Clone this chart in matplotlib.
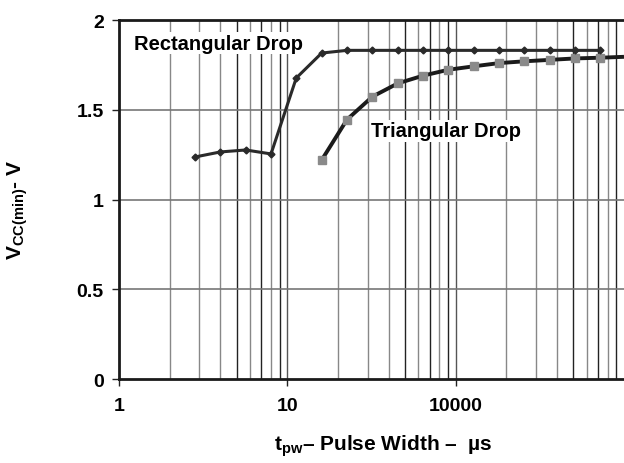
import matplotlib
matplotlib.use("Agg")
import matplotlib.pyplot as plt
from matplotlib.ticker import FixedLocator, NullFormatter

plt.rcParams['font.family'] = ['Liberation Sans', 'DejaVu Sans']
plt.rcParams['font.weight'] = 'bold'
plt.rcParams['mathtext.fontset'] = 'custom'
plt.rcParams['mathtext.rm'] = 'Liberation Sans:bold'
plt.rcParams['mathtext.bf'] = 'Liberation Sans:bold'

# pulse width (us) and Vcc(min) values
rect_x = [2.83, 4, 5.66, 8, 11.3, 16, 22.6, 32, 45.3, 64, 90.5, 128, 181, 256, 362, 512, 724]
rect_y = [1.237, 1.265, 1.276, 1.254, 1.677, 1.816, 1.831, 1.831, 1.831, 1.831, 1.831,
          1.831, 1.831, 1.831, 1.831, 1.831, 1.831]

tri_x = [16, 22.6, 32, 45.3, 64, 90.5, 128, 181, 256, 362, 512, 724, 1000]
tri_y = [1.22, 1.445, 1.573, 1.647, 1.69, 1.723, 1.742, 1.76, 1.77, 1.778, 1.786, 1.79, 1.795]
tri_mark_x = tri_x[:-1]
tri_mark_y = tri_y[:-1]

xticks = [1, 10, 100]
xticklabels = ['1', '10', '10000']
yticks = [0, 0.5, 1, 1.5, 2]
yticklabels = ['0', '0.5', '1', '1.5', '2']

fig = plt.figure(figsize=(6.24, 4.64), dpi=100)
ax = fig.add_axes([0.1907, 0.181, 0.8093, 0.7737])
ax.set_xscale('log')
ax.set_xlim(1, 1000)
ax.set_ylim(0, 2)

# grid: mix of dark and grey vertical lines like the original
dark = {5, 7, 9}
for d in range(3):
    for m in range(2, 10):
        ax.axvline(m * 10 ** d, color='#222222' if m in dark else '#888888', lw=1.0, zorder=1)
for v in [10, 100]:
    ax.axvline(v, color='#555555', lw=1.0, zorder=1)
for v in [0.5, 1, 1.5]:
    ax.axhline(v, color='#777777', lw=1.2, zorder=1)

ax.plot(tri_x, tri_y, color='#1a1a1a', lw=2.8, zorder=3, solid_capstyle='butt')
ax.plot(tri_mark_x, tri_mark_y, ls='none', marker='s', ms=6, color='#8a8a8a', zorder=4)
ax.plot(rect_x, rect_y, color='#2a2a2a', lw=2.2, marker='D', ms=3.5, zorder=5)

ax.text(3.9, 1.87, 'Rectangular Drop', fontsize=14.5, fontweight='bold', ha='center', va='center',
        bbox=dict(facecolor='white', edgecolor='none', pad=1), zorder=6)
ax.text(88, 1.382, 'Triangular Drop', fontsize=14.5, fontweight='bold', ha='center', va='center',
        bbox=dict(facecolor='white', edgecolor='none', pad=1), zorder=6)

ax.xaxis.set_major_locator(FixedLocator(xticks))
ax.set_xticklabels(xticklabels)
ax.xaxis.set_minor_locator(FixedLocator([]))
ax.xaxis.set_minor_formatter(NullFormatter())
ax.set_yticks(yticks)
ax.set_yticklabels(yticklabels)
ax.tick_params(axis='both', labelsize=14, width=1, length=5, color='#222222')
ax.tick_params(axis='x', pad=8)
ax.tick_params(axis='y', pad=6)
for lab in ax.get_xticklabels() + ax.get_yticklabels():
    lab.set_fontweight('bold')

for s in ['left', 'bottom', 'top']:
    ax.spines[s].set_linewidth(2)
    ax.spines[s].set_color('#1a1a1a')
ax.spines['right'].set_visible(False)

ax.set_ylabel(r'V$_{\mathbf{CC(min)}}$- V', fontsize=15, fontweight='bold')
ax.yaxis.set_label_coords(-0.176, 0.474)
ax.set_xlabel(r't$_{\mathbf{pw}}$– Pulse Width –  µs', fontsize=15, fontweight='bold')
ax.xaxis.set_label_coords(0.523, -0.148)

fig.savefig('out.png', dpi=100)
